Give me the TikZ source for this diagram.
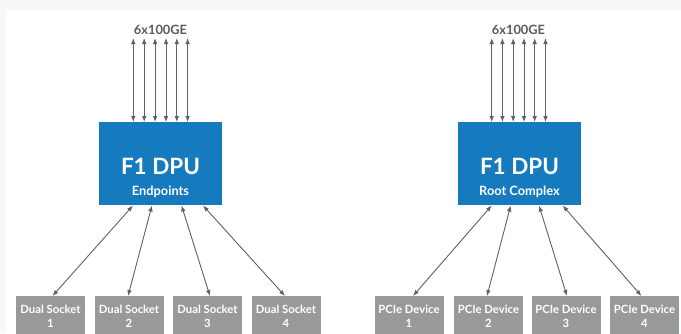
\documentclass[tikz,border=0pt]{standalone}
\usepackage{fontspec}
\setmainfont{Lato}
\usetikzlibrary{arrows.meta}
\definecolor{dpublue}{RGB}{22,122,190}
\definecolor{boxgray}{RGB}{152,154,154}
\definecolor{linegray}{RGB}{95,98,98}
\definecolor{labelgray}{RGB}{90,90,90}
\definecolor{framegray}{RGB}{248,248,248}
\tikzset{
  dpubox/.style={fill=dpublue, draw=none, minimum width=123pt, minimum height=83pt, inner sep=0pt},
  devbox/.style={fill=boxgray, draw=none, minimum width=69pt, minimum height=40pt, inner sep=0pt, anchor=north,
     text=white, font=\bfseries\fontsize{11.3}{14}\selectfont, align=center},
  link/.style={draw=linegray, line width=0.9pt, {Latex[length=6pt,width=4.6pt]}-{Latex[length=6pt,width=4.6pt]}},
  biglabel/.style={text=white, font=\fontsize{22.5}{24}\selectfont\bfseries, inner sep=0pt},
  sublabel/.style={text=white, font=\fontsize{12.8}{14}\selectfont\bfseries, inner sep=0pt},
  toplabel/.style={text=labelgray, font=\fontsize{12.8}{14}\selectfont\bfseries, inner sep=0pt}
}
\begin{document}
\begin{tikzpicture}[x=1pt,y=-1pt]
\useasboundingbox (0,0) rectangle (681,333);
\fill[framegray] (0,0) rectangle (681,333);
\fill[white] (6,10) rectangle (681,333);

% Left DPU
\node[dpubox] (dpuL) at (160.5,163.5) {};
\node[biglabel] (dpuLt) at (160.5,166.5) {F1 DPU};
\node[sublabel] (dpuLs) at (160.5,191.5) {Endpoints};
\node[toplabel] (netL) at (160.5,30) {6x100GE};
\foreach \i/\x in {1/133.3,2/144.2,3/155.1,4/166,5/176.8,6/187.6}{
  \coordinate (tL\i) at (\x,38);
  \coordinate (bL\i) at (\x,122);
  \draw[link] (tL\i) -- (bL\i);
}

% Right DPU
\node[dpubox] (dpuR) at (519.5,163.5) {};
\node[biglabel] (dpuRt) at (519.5,166.5) {F1 DPU};
\node[sublabel] (dpuRs) at (519.5,191.5) {Root Complex};
\node[toplabel] (netR) at (518.5,30) {6x100GE};
\foreach \i/\x in {1/491.7,2/502.4,3/513.2,4/524,5/534.7,6/545.5}{
  \coordinate (tR\i) at (\x,38);
  \coordinate (bR\i) at (\x,122);
  \draw[link] (tR\i) -- (bR\i);
}

% Bottom boxes left
\node[devbox] (ds1) at (50.5,296) {Dual Socket\\1};
\node[devbox] (ds2) at (129,296) {Dual Socket\\2};
\node[devbox] (ds3) at (207.5,296) {Dual Socket\\3};
\node[devbox] (ds4) at (286,296) {Dual Socket\\4};

% Bottom boxes right
\node[devbox] (pd1) at (409,296) {PCIe Device\\1};
\node[devbox] (pd2) at (488.5,296) {PCIe Device\\2};
\node[devbox] (pd3) at (566,296) {PCIe Device\\3};
\node[devbox] (pd4) at (644.5,296) {PCIe Device\\4};

% Diagonal links left
\coordinate (uL1) at (133,205.5);
\coordinate (uL2) at (152,205.5);
\coordinate (uL3) at (181.5,205.5);
\coordinate (uL4) at (203,205.5);
\draw[link] (uL1) -- ([xshift=2pt]ds1.north);
\draw[link] (uL2) -- ([xshift=-1pt]ds2.north);
\draw[link] (uL3) -- ([xshift=2.5pt]ds3.north);
\draw[link] (uL4) -- ([xshift=-1pt]ds4.north);

% Diagonal links right
\coordinate (uR1) at (491.7,205.5);
\coordinate (uR2) at (510.7,205.5);
\coordinate (uR3) at (539,205.5);
\coordinate (uR4) at (562.7,205.5);
\draw[link] (uR1) -- ([xshift=4pt]pd1.north);
\draw[link] (uR2) -- ([xshift=-1.5pt]pd2.north);
\draw[link] (uR3) -- ([xshift=1pt]pd3.north);
\draw[link] (uR4) -- ([xshift=-3pt]pd4.north);
\end{tikzpicture}
\end{document}
